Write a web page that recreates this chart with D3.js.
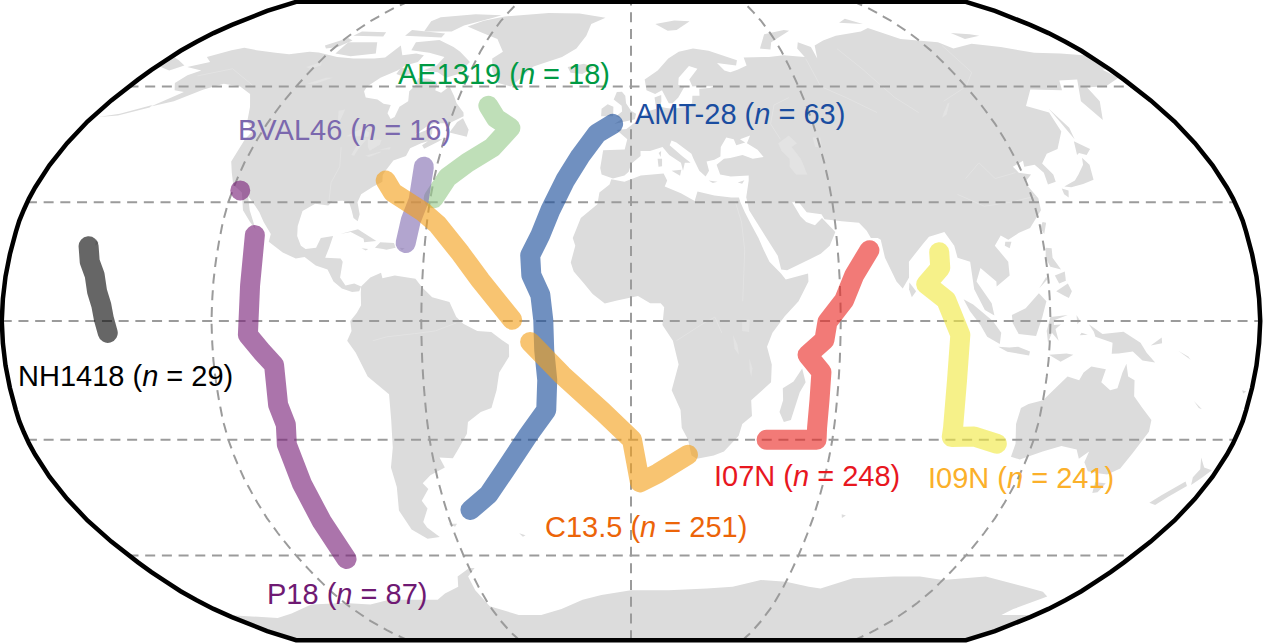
<!DOCTYPE html>
<html>
<head>
<meta charset="utf-8">
<script src="https://cdn.jsdelivr.net/npm/d3@7"></script>
<style>
  html, body { margin: 0; padding: 0; background: #fff; }
  svg { display: block; }
</style>
</head>
<body>
<div id="map"></div>
<script>
var width = 1263,
    height = 644;

// cruise tracks, [lon, lat]
var ae1319 = [[[-48.8,54.8],[-45,51.5],[-39.5,49],[-44,43.9],[-50.8,40],[-56,36.3],[-59,31]]];
var amt28 = [[[-5.9,50],[-11,47.5],[-15.9,41.7],[-20,35.6],[-23.9,28],[-26.5,21.7],[-29.2,16.6],[-28.7,11.6],[-26,6.6],[-25.1,0.3],[-24.9,-7.3],[-24.2,-14.9],[-24.8,-22.5],[-30.5,-28.8],[-38.6,-37.6],[-45.2,-43.9],[-52.2,-47.9]]];
var bval46 = [[[-64,39],[-63.4,30.5],[-64.8,25.5],[-65.6,19.7]]];
var c135 = [
  [[-74.6,35.5],[-71.6,32.5],[-61.4,27.5],[-56.8,24.4],[-49.4,17.1],[-43.3,10.3],[-34,0.3]],
  [[-28.9,-5.3],[-19.9,-13.6],[-8.2,-23],[0.3,-30],[2.8,-40.8],[8.3,-38.5],[17.2,-33.8]]
];
var i07n = [[[69.2,17.9],[64.3,11.6],[61.1,5.3],[56.2,-0.2],[55.4,-4.8],[50.7,-8.6],[54.9,-12.9],[54.9,-20],[55,-27],[55.3,-30],[40.4,-30]]];
var i09n = [[[89.4,17.4],[89.2,13.4],[84.8,9.3],[90.3,5.3],[94.3,-3.5],[94.2,-14.9],[95.2,-27],[95.4,-29.3],[102,-29.2],[109.4,-31]]];
var nh1418 = [[[-157.7,18.9],[-156.4,15],[-154.4,11.6],[-153.2,7.5],[-151.7,4],[-150.8,0.5],[-149.8,-3]]];
var p18 = [
  [[-117.7,33],[-117.7,33]],
  [[-109.9,21.7],[-109.4,9],[-109.7,-3.5],[-105.9,-7.8],[-102.7,-11.1],[-103,-21.2],[-101.8,-26.2],[-103,-31.2],[-102.8,-41.2],[-102.6,-50.9],[-102.9,-61]]
];

var tracks = [ae1319, amt28, bval46, c135, i07n, i09n, nh1418, p18];
var trackColors = ["#98cb8c", "#184c99", "#836eb1", "#f4a01a", "#ea2823", "#f0e840", "#080808", "#771f77"];

var labelNames = ["AE1319", "AMT-28", "BVAL46", "C13.5", "I07N", "I09N", "NH1418", "P18"];
var labelCounts = [18, 63, 16, 251, 248, 241, 29, 87];
var labelColors = ["#009a44", "#1a4da0", "#7b68ae", "#ec6408", "#e8171f", "#fbb02a", "#000000", "#6f1a73"];
var labelX = [398, 635, 238, 545, 714, 928, 18, 267];
var labelY = [84, 124, 140, 537, 486, 488, 386, 604];

var lonTicks = [-120, -60, 0, 60, 120];
var latTicks = [-60, -30, 0, 30, 60];

// land outlines, [lon, lat]
var northAmerica = [[-156.5,71.3],[-150,70.5],[-141,69.7],[-135,69.3],[-128,70],[-124,69.8],[-115,68.5],[-108,68],[-100,68],[-96,68.3],[-94,72],[-90,69],[-85,69.5],[-81.5,69],[-82,67],[-86,66],[-87.5,64.5],[-92,62.5],[-94.5,60],[-94.5,58.7],[-92.5,57],[-88,56.5],[-85,55.3],[-82.3,55],[-82,52.8],[-80,51.3],[-79,51.8],[-79,54.5],[-77,56],[-78.5,58.7],[-77.5,60.2],[-78,62.4],[-74,62.2],[-70,61],[-69.5,59],[-67,58.3],[-65,60],[-62,57.5],[-60,55.5],[-56.5,53],[-56,52],[-60,50.2],[-65,50.2],[-67,49.3],[-70,47.2],[-65,49],[-64.5,47.5],[-65,46],[-61,46],[-60,46.5],[-61.5,45.5],[-65.5,43.6],[-66.5,44.5],[-65,45.5],[-67,45],[-70,43.7],[-70.5,41.7],[-74,40.6],[-75.5,38],[-76,36.9],[-75.5,35.2],[-78,33.9],[-81,32],[-81.5,30],[-80.2,27],[-80.4,25.2],[-81.8,26],[-82.8,28],[-84,30],[-86,30.4],[-89,30.3],[-90,29.2],[-94,29.6],[-97.3,27.8],[-97.8,24],[-97.5,21.5],[-96,19],[-94.5,18.2],[-91.5,18.5],[-90.5,21],[-87,21.5],[-87.7,18.5],[-88.5,16],[-84,15.8],[-83.3,15],[-83.7,11],[-82,9],[-79.5,9.5],[-77.5,8.7],[-78,7.5],[-80,7.3],[-83,8.2],[-85.5,10],[-87.5,13],[-91,14],[-94.5,16.2],[-97,15.8],[-101,17.3],[-105.5,20],[-105.3,22],[-108,25],[-110,27.5],[-112.7,30],[-114.7,31.5],[-113,28],[-110,23.2],[-112,25],[-115,28],[-117,32.5],[-120.5,34.5],[-122.5,37.5],[-124.3,40.3],[-124,46],[-123,48.5],[-127,50.5],[-130,54.5],[-134,58],[-140,60],[-147,60.8],[-152,59.2],[-158,56],[-164,54.6],[-158,58.5],[-162,59],[-165,61],[-164,63.2],[-161,64.5],[-168,65.5],[-162,67],[-166,68.5],[-160,70.5]];
var arcticIslands = [
  [[-80,73.7],[-72,71.5],[-68,70],[-62,67],[-64,63.5],[-68,62.5],[-72,64],[-78,64.5],[-74,66],[-73,68.5],[-80,69.7],[-88,70.5],[-89,73]],
  [[-117,73],[-105,73],[-101,69.5],[-110,68.7],[-117,69.5]],
  [[-125,72],[-119,74.3],[-116,73.5],[-119,71.5],[-123,71]],
  [[-90,76.5],[-78,76.5],[-75,78.5],[-65,81.5],[-62,82.5],[-75,83],[-90,81.7],[-92,80]],
  [[-96,75],[-80,74.5],[-80,75.8],[-96,77]],
  [[-118,75],[-105,74.8],[-106,76.2],[-117,76.5]],
  [[-87,65.5],[-81,64],[-84,62.8],[-87,63.5]],
  [[-59,47.8],[-53,46.7],[-53,48.5],[-56,51.5],[-57.5,50.5]],
  [[-24,65.5],[-18,66.5],[-14,65.5],[-18,63.5],[-22.5,63.9]],
  [[11,79],[20,80.3],[27,80],[20,77],[16,76.7]],
  [[52,71],[56,70.7],[58,73],[69,76.7],[67,77],[57,75.5]],
  [[95,79.5],[105,79],[100,81]],
  [[-180,68.8],[-175,67.5],[-170,66],[-173,64.5],[-178,65.5],[-180,65]],
  [[-164,55],[-172,52.7],[-178,51.8],[-172,52.2],[-164,54.3]],
  [[138,76],[145,75.5],[148,75],[140,74]]
];
var greenland = [[-73,78.2],[-68,80.2],[-60,82],[-40,83.5],[-25,83.3],[-12,81.5],[-18,79],[-19,75],[-22,71],[-27,68.5],[-37,65.7],[-43,60],[-48,61],[-52,64.5],[-54,68],[-51,70],[-56,74],[-64,76]];
var caribbean = [
  [[-85,22],[-80,23.2],[-74.2,20.2],[-77.7,19.9],[-78,20.8],[-82,22.5]],
  [[-74.4,18.5],[-73,19.9],[-69,19.7],[-68.4,18.5],[-71,18],[-72,18.2]],
  [[-78.3,18.4],[-76.3,18.2],[-77,17.8]],
  [[-67.2,18.5],[-65.7,18.4],[-66.5,17.9]]
];
var southAmerica = [[-77.5,8.7],[-75,11],[-72,12.2],[-71.5,10.8],[-68,11.5],[-62,10.7],[-60,8.5],[-57,6],[-52,4.8],[-50,1],[-48,-0.7],[-44,-2.5],[-40,-2.8],[-37,-4.8],[-35,-6],[-35,-9],[-38,-13],[-39,-17.5],[-40.8,-22],[-44,-23],[-48,-25.5],[-48.7,-28.5],[-52,-32.5],[-54,-34.7],[-58,-34.5],[-57,-37],[-62,-39],[-65,-41],[-63.8,-42.5],[-67,-45.5],[-66,-47.5],[-69,-51],[-68.5,-52.5],[-65.5,-55],[-70,-55.5],[-74,-53],[-75.5,-48],[-73.5,-42],[-73.5,-37],[-71.5,-32],[-70.5,-25],[-70.3,-18.5],[-76,-14],[-79,-8],[-81.3,-5],[-80,-2.5],[-80.3,0],[-78.5,2],[-77.3,4],[-77.5,7]];
var africa = [[-6,35.8],[-2,35.2],[3,36.8],[10,37.3],[11,35.5],[10.2,34],[15,32.3],[19,30.3],[20,32.7],[25,31.7],[30,31.2],[32.3,31.2],[32.6,30],[33.7,27.5],[35.5,24],[37.2,21],[38.5,18],[40,15],[43.2,12],[44.5,10.5],[51,12],[51,10],[48,5],[44,1.2],[40.5,-3],[39,-6.5],[40.5,-11],[40.5,-15.5],[35,-20],[35.5,-24],[32.8,-26],[32,-29],[28,-33],[25,-34],[20,-34.8],[18.3,-34],[17,-30],[15,-27],[14.5,-22.5],[11.8,-17.5],[13.7,-11],[12,-5],[9,-1],[9.5,3.5],[8.5,4.5],[5.5,4.5],[2,6.3],[-4,5.2],[-7.5,4.4],[-11,6.8],[-13.5,9.5],[-16.5,12.5],[-17.4,14.8],[-16.2,19],[-17,21],[-14.8,26],[-10,29.5],[-9.5,32.5],[-6.5,34.5]];
var madagascar = [[49.3,-12],[50.5,-15.5],[49,-18],[47,-25],[45,-25.5],[43.5,-23],[44.3,-20],[44,-17],[47,-15.3]];
var eurasia = [[-9,37],[-9.5,38.7],[-8.8,43.2],[-2,43.4],[-1.2,46],[-4.7,48.4],[-1.5,48.7],[1.5,50.5],[4,52],[6,53.4],[8.6,54],[8.2,57],[10.6,57.7],[10.5,56],[10,54.5],[12,54.2],[14.2,54],[19,54.5],[21,55.5],[21.5,57.5],[24,57.5],[24.3,59.4],[28,59.6],[30,60],[25,60.2],[22,60],[21.3,62],[25,65],[22,65.8],[17.5,62.5],[17,60.5],[19,59.8],[16.5,57],[14.3,55.5],[13,55.5],[11,59],[8.5,58],[5.5,59],[5,62],[10,64.5],[14.5,68],[19,70],[25,71],[31,70.3],[41,67.5],[40,66],[35,66.5],[33,66.7],[35,64.5],[37,64],[40,64.7],[44,66],[44,68.3],[54,68.5],[60,69],[68,68.5],[67,71],[69,73],[73,71.5],[72.5,68],[75,72],[80,73.5],[87,75],[100,76.5],[105,77.7],[113,74],[127,73],[130,71],[140,72.5],[150,71.5],[160,69.7],[170,69.5],[178,69],[180,68.8],[180,65],[177,64.7],[179,62.5],[170,60],[163,59.8],[162,56],[156.7,51],[155.5,56],[163,62],[156,61.7],[153,59],[142,59.2],[135,54.7],[141,53],[140,48],[135,43.5],[130.7,42.3],[127.5,39.8],[129.3,37],[129,35.2],[126.3,34.5],[126.7,37.5],[125,39.5],[121.5,39],[122,40.5],[118,39],[119,37.5],[122.5,37],[119.5,35],[121.8,31],[121.5,28],[117,23.5],[113.5,22.3],[110,20.5],[108,21.6],[105.8,19],[109,15],[109,11.5],[105,8.7],[105,10],[100.8,13.4],[99.3,10],[103.3,4.5],[104,1.4],[101.3,2.8],[98.5,8],[98,15],[94.5,16],[94,19],[91.7,22.5],[89,21.8],[87,21.3],[85,19.5],[80.3,15],[80,11],[78,8.2],[76.3,10],[73.5,16],[72.8,20.5],[72,21],[70,21],[69,22.8],[67,24.8],[62,25.2],[57,25.7],[56.3,27],[52,27.5],[50,30],[48,30],[50,26.5],[51.5,25],[54,24.2],[56.3,26],[59.8,22.5],[57.8,19],[55,17],[52,15.7],[45,12.8],[43.3,13],[42.5,16.5],[39.2,21.5],[35,28],[34.5,31.3],[35.8,35.5],[36,36.8],[30.5,36.5],[27.3,37],[26.5,39.5],[29,41],[31,41.2],[35,42],[38,41],[41.5,41.5],[40,43.3],[37,45],[38.5,47],[35,46],[36.5,45.2],[33.5,44.5],[33,46],[30.7,46.5],[28.5,44],[28,41.6],[26,40.8],[23.5,40.3],[24,38],[22.8,36.5],[21,38],[19.5,41],[19,42.3],[14.5,45.2],[13,45.7],[12.3,44.5],[16,41.7],[18.5,40],[16.7,40],[16,38],[15.5,40],[12,42],[10,44],[6,43],[3,43],[3,41.7],[0,39.7],[-0.7,37.7],[-2,36.8],[-5.5,36]];
var europeIslands = [
  [[-5.5,50],[1.3,51.2],[1.7,52.7],[0,53.5],[-1.7,55.5],[-2,57.5],[-3.2,58.6],[-5,58.5],[-6,56.5],[-3.2,54.8],[-3,53.3],[-5,52],[-3,51.3]],
  [[-10,52],[-6,52],[-6,54.5],[-8,55.2],[-10,54]],
  [[12.5,38],[15.5,38.2],[15,36.7]],
  [[8.3,41],[9.7,41],[9.6,39.1],[8.5,39]],
  [[8.7,42.5],[9.5,43],[9.3,41.5]],
  [[23.6,35.5],[26.3,35.2],[24.8,34.9]],
  [[32.4,35],[34.5,35.6],[33.7,34.7]]
];
var asiaIslands = [
  [[142,54],[143.5,49],[142.5,46],[142,50]],
  [[131,34],[135,35.5],[137,37],[140,39.5],[141,41.3],[142,39.5],[140.8,35.7],[137,34.6],[133,33.8]],
  [[130,33.5],[131.8,33],[131,31.2],[130,32]],
  [[140,42],[141.8,45.5],[145.3,43.5],[143,42],[141,42.5]],
  [[121,25],[122,24.8],[120.8,22],[120,23.5]],
  [[109,20],[110.8,20],[110,18.4],[108.7,19]],
  [[80,9.7],[81.8,7.5],[80.5,6],[79.8,8]],
  [[120.5,18.5],[122.2,18.4],[122,16],[124,13],[121,13.7],[120,16]],
  [[122,7.5],[125.5,9.5],[126.5,7.5],[125.5,5.8],[124,6.5]],
  [[122,11.5],[125,12.5],[125,10.2],[123,9.5]],
  [[117.2,8.3],[119.5,11.2],[119.7,10.5]],
  [[95.3,5.5],[98,4.2],[103.5,0],[106,-3],[105.7,-5.8],[102,-4],[100,-1],[97,2.5]],
  [[105.3,-6.5],[108.5,-6.7],[111,-6.5],[114.5,-7.7],[114.3,-8.7],[108,-7.8]],
  [[109,1.5],[113,3.2],[117,7],[119,5],[117.7,1],[116,-3.8],[111,-3.3],[109.2,-0.5]],
  [[119.5,-5.5],[119,-2.5],[120,1],[125,1.5],[121,0.2],[121,-1],[123,-0.9],[121.5,-2],[122.5,-5],[120.5,-3]],
  [[131,-0.8],[135,-3.3],[141,-2.7],[146,-5.5],[148,-8],[150.7,-10.5],[147,-10],[144,-7.7],[140,-8.2],[138,-8.3],[138,-5.5],[133,-4],[132.5,-2.7]],
  [[120,-8.5],[125,-8.2],[127,-8.5],[123.5,-10.3]],
  [[127.5,1.5],[128.5,0],[127.7,-0.8]],
  [[129,-3],[130.8,-3.5],[128.5,-3.6]]
];
var australia = [[114,-22],[113.5,-26],[115,-31],[115,-34.3],[118,-35],[124,-33],[129,-31.6],[134,-32.5],[135.8,-34.8],[138,-33],[138,-35.7],[140.5,-38],[144,-38.5],[147,-38.8],[150,-37.3],[151.3,-33.5],[153.5,-28],[153,-25],[149.5,-22],[146.3,-19],[145.5,-15],[143.5,-14],[142.5,-10.8],[141.7,-13],[141,-17],[139,-17.5],[136,-15.5],[136.8,-12.2],[132.5,-11.5],[130.5,-13],[129.5,-15],[126,-14],[122.5,-17.5],[120,-20],[116,-21]];
var pacificIslands = [
  [[144.7,-40.8],[148.2,-41],[147.5,-43.3],[146,-43.5]],
  [[172.7,-34.5],[175.5,-37],[178.4,-37.7],[177,-39.5],[175.3,-41.5],[174,-39.5],[174.7,-37.5]],
  [[172.7,-40.6],[174.2,-41.7],[171,-44.5],[169,-46.6],[166.5,-46],[168.5,-44]],
  [[164,-20.2],[167,-22.3],[166,-22]],
  [[177.3,-17.5],[178.6,-17.8],[177.8,-18.3]],
  [[152,-4.2],[152.2,-5.6],[149,-6.2]],
  [[157,-7.5],[160,-9],[160.8,-9.8]],
  [[-156,20.8],[-155,19.7],[-155.8,19]],
  [[-61,-51.5],[-58,-51.5],[-59,-52.3]],
  [[-38,-54],[-36,-54.5],[-37,-54.9]],
  [[69,-49],[70.5,-49.3],[69.5,-50]]
];
var antarctica = [[-180,-78],[-160,-79],[-150,-77.5],[-135,-74.5],[-120,-74],[-110,-74.5],[-100,-73],[-90,-73],[-80,-73],[-75,-71],[-68,-69],[-66,-66],[-60,-63.5],[-58,-63.5],[-62,-66],[-62,-70],[-60,-75],[-50,-78],[-40,-78],[-30,-76],[-20,-73],[-12,-71.5],[0,-70],[15,-70],[30,-69.5],[40,-69],[50,-67],[60,-67.5],[70,-69],[75,-69.5],[85,-66.5],[100,-66],[110,-66],[120,-67],[135,-66],[145,-67.5],[155,-69],[165,-70.5],[170,-72],[165,-76],[165,-78],[180,-78],[180,-90],[-180,-90]];
var lakes = [
  [[47,45],[51,47],[53,45],[51,44],[53,41],[54,37],[50.5,37],[49,39],[49.5,41],[47.5,43]],
  [[58.5,46.5],[61,46.5],[60.5,44],[58.5,44]],
  [[103.8,51.6],[106,52.5],[109.8,55.7],[109,55.5],[105.5,53]],
  [[-92,46.8],[-88,48.8],[-85,47.8],[-84.7,46.6],[-88,46.8]],
  [[-87.8,42],[-87,45.8],[-85,45.9],[-86.3,43.5],[-86.8,41.8]],
  [[-84.5,46],[-80,45.8],[-80,44.6],[-82.5,43.1],[-83.5,44]],
  [[-83.3,41.8],[-79,42.9],[-78.9,42.6],[-82,41.5]],
  [[-79.7,43.3],[-76.3,44],[-76.3,43.4]],
  [[-99,53.5],[-97,53.8],[-96.5,51],[-97,50.5]],
  [[-117,60.8],[-112,62.5],[-109.5,62.5],[-114,60.8]],
  [[-123,65.5],[-119,67],[-118,66],[-121,65]],
  [[31.8,0.3],[34,0.3],[33.8,-2.8],[31.8,-2.5]],
  [[29.2,-3.5],[30.5,-6],[31,-8.5],[29.7,-7]],
  [[34,-9.5],[35,-12],[34.7,-14],[34.2,-12.5]]
];
var rivers = [
  [[-50,-0.5],[-56,-2.5],[-62,-3.2],[-70,-4],[-74,-5]],
  [[-90,29.5],[-91,35],[-90,39],[-92,44]],
  [[-135,60],[-150,65],[-160,63]],
  [[31,30.5],[32.5,25],[33,18],[32.5,12],[32,5]],
  [[13,-5],[20,-1],[24,1],[26,-3]],
  [[48,46],[46,50],[49,55],[55,57]],
  [[68,68],[68,60],[75,57],[83,53]],
  [[83,71],[87,65],[92,57],[97,53]],
  [[127,72],[127,64],[120,60],[108,56]],
  [[121,31.5],[113,30],[105,29],[98,32]],
  [[118,37.5],[111,36],[108,40],[102,36]]
];

var landParts = [northAmerica, greenland, southAmerica, africa, madagascar, eurasia, australia, antarctica]
  .concat(arcticIslands, caribbean, europeIslands, asiaIslands, pacificIslands);

// Robinson lengths and heights, every 5 degrees of latitude
var robinsonLength = [1, .9986, .9954, .99, .9822, .973, .96, .9427, .9216, .8962, .8679, .835, .7986, .7597, .7186, .6732, .6213, .5722, .5322];
var robinsonDrop = [0, .062, .124, .186, .248, .31, .372, .434, .4958, .5571, .6176, .6769, .7346, .7903, .8435, .8936, .9394, .9761, 1];

var latSteps = d3.scaleLinear().domain(d3.range(0, 91, 5)).range(robinsonDrop);
var lenSteps = d3.scaleLinear().domain(d3.range(0, 91, 5)).range(robinsonLength);

function robinsonRaw(lambda, phi) {
  var deg = Math.abs(phi) * 180 / Math.PI;
  return [0.8487 * lambda * lenSteps(deg), 1.3523 * (phi < 0 ? -1 : 1) * latSteps(deg)];
}

var projection = d3.geoProjection(robinsonRaw)
  .scale(236)
  .translate([631, 321])
  .precision(0.3);

var geoPath = d3.geoPath(projection);

var svg = d3.select("#map")
  .append("svg")
    .attr("width", width)
    .attr("height", height);

var coastLine = d3.line()
  .x(d => projection(d)[0])
  .y(d => projection(d)[1]);

// land
svg.append("g")
  .selectAll("path")
  .data(landParts)
  .enter()
  .append("path")
    .attr("d", d => coastLine(d) + "Z")
    .style("fill", "#dcdcdc");

svg.append("g")
  .selectAll("path")
  .data(lakes)
  .enter()
  .append("path")
    .attr("d", d => coastLine(d) + "Z")
    .style("fill", "#e3e3e3");

svg.append("g")
  .selectAll("path")
  .data(rivers)
  .enter()
  .append("path")
    .attr("d", coastLine)
    .style("fill", "none")
    .style("stroke", "#e3e3e3")
    .style("stroke-width", 1);

// graticule
var meridians = lonTicks.map(lon => d3.range(-90, 90.5, 2).map(lat => [lon, lat]));
var parallels = latTicks.map(lat => d3.range(-180, 180.5, 2).map(lon => [lon, lat]));

svg.append("path")
  .datum({type: "MultiLineString", coordinates: meridians.concat(parallels)})
  .attr("d", geoPath)
  .style("fill", "none")
  .style("stroke", "#9b9b9b")
  .style("stroke-width", 2)
  .style("stroke-dasharray", "10,6.7");

// tracks
svg.append("g")
  .selectAll("path")
  .data(tracks)
  .enter()
  .append("path")
    .attr("d", d => d.map(segment => coastLine(segment)).join(""))
    .style("fill", "none")
    .style("stroke", (d, i) => trackColors[i])
    .style("stroke-width", 20)
    .style("stroke-linecap", "round")
    .style("stroke-linejoin", "round")
    .style("opacity", 0.62);

// map outline
svg.append("path")
  .datum({type: "Sphere"})
  .attr("d", geoPath)
  .style("fill", "none")
  .style("stroke", "#000")
  .style("stroke-width", 4.5);

// labels
var labels = svg.append("g")
  .selectAll("text")
  .data(labelNames)
  .enter()
  .append("text")
    .attr("x", (d, i) => labelX[i])
    .attr("y", (d, i) => labelY[i])
    .attr("font-family", "'Liberation Sans', Arial, sans-serif")
    .attr("font-size", "29px")
    .attr("fill", (d, i) => labelColors[i]);

labels.append("tspan").text(d => d + " (");
labels.append("tspan").attr("font-style", "italic").text("n");
labels.append("tspan").text((d, i) => " = " + labelCounts[i] + ")");
</script>
</body>
</html>
